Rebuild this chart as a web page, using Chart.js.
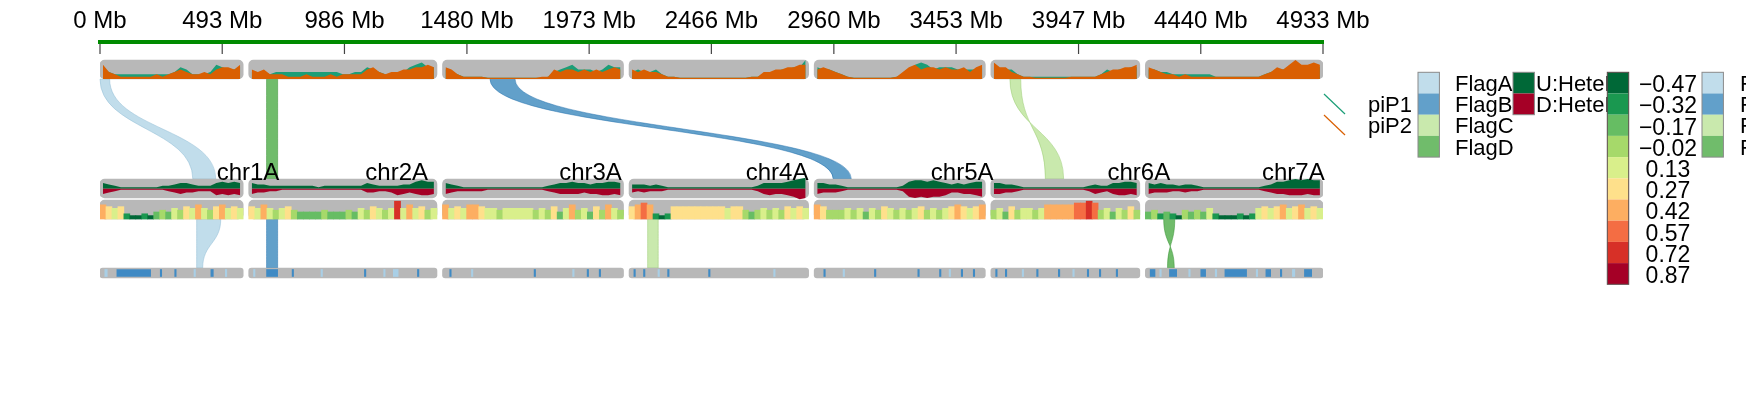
<!DOCTYPE html>
<html>
<head>
<meta charset="utf-8">
<title>Genome tracks</title>
<script src="https://cdn.jsdelivr.net/npm/chart.js@4.4.1/dist/chart.umd.min.js"></script>
<style>
  html, body { margin: 0; padding: 0; background: #fff; }
  #wrap { width: 1746px; height: 416px; }
</style>
</head>
<body>
<div id="wrap"><canvas id="genomeChart" width="1746" height="416"></canvas></div>
<script>
// Dados

const chromosomes = ['chr1A', 'chr2A', 'chr3A', 'chr4A', 'chr5A', 'chr6A', 'chr7A'];
const chromLengths = [594, 781, 751, 745, 710, 618, 737];   // Mb

const tickValues = [0, 493, 986, 1480, 1973, 2466, 2960, 3453, 3947, 4440, 4933];
const tickLabels = ['0 Mb', '493 Mb', '986 Mb', '1480 Mb', '1973 Mb', '2466 Mb',
                    '2960 Mb', '3453 Mb', '3947 Mb', '4440 Mb', '4933 Mb'];

// pi por janela (relativo, 0-10), uma lista por cromossomo
const piP1 = [
  [5,3,2,2,2,2,2,2,2,2,2,2,3,5,4,2,2,2,3,6,5,4,4,5],
  [3,3,3,2,3,3,3,3,3,3,3,3,3,3,3,2,2,3,3,5,4,3,2,2,3,3,5,6,7,5,5],
  [4,3,2,1,1,1,1,0.5,0.5,0.5,0.5,0.5,0.5,0.5,0.5,0.5,0.5,1,3,4,5,6,4,4,4,3,4,6,5,5],
  [3,4,3,3,4,2,1,1,0.5,0.5,0.5,0.5,0.5,0.5,0.5,0.5,0.5,0.5,0.5,0.5,1,1,2,3,3,4,4,5,5,8],
  [5,4,4,3,2,1,0.5,0.5,0.5,0.5,0.5,0.5,0.5,1,2,4,6,7,6,4,5,5,5,4,4,4,4,5],
  [5,4,4,4,2,1,1,1,1,1,1,1,1,1,1,1,1,1,2,4,3,4,4,5,5],
  [4,4,3,3,2,2,2,2,2,2,2,1,1,1,1,1,1,1,1,2,3,4,4,5,6,5,5,6,5]
];
const piP2 = [
  [6,3,2,1,1,1,1,1,1,2,1,2,3,4,3,2,2,3,2,4,5,5,4,6],
  [4,3,4,2,2,2,1,1,1,2,1,1,1,2,1,2,2,2,2,4,5,3,2,3,3,4,4,5,5,6,5],
  [5,4,2,1,1,1,1,0.5,0.5,0.5,0.5,0.5,0.5,0.5,0.5,0.5,1,1,4,3,4,4,3,4,3,4,3,4,5,4],
  [4,3,4,3,3,2,1,1,0.5,0.5,0.5,0.5,0.5,0.5,0.5,0.5,0.5,0.5,0.5,0.5,1,1,3,3,4,4,5,5,6,6],
  [4,5,4,3,2,1,0.5,0.5,0.5,0.5,0.5,0.5,0.5,1,3,5,6,4,5,5,4,5,4,4,5,3,5,6],
  [7,5,5,3,2,1,1,0.5,0.5,0.5,0.5,0.5,0.5,1,1,1,1,1,2,3,4,4,5,5,6],
  [5,4,3,2,2,1,2,1,1,1,1,1,1,1,1,1,1,1,1,2,3,5,4,6,8,6,6,7,6]
];

// HeteF para cima (U) e para baixo (D), relativo 0-10
const heteU = [
  [4,3,2,1,1,1,1,1,1,1,2,2,3,4,4,3,2,2,2,4,5,4,5,4],
  [4,3,3,2,2,2,2,2,2,2,2,1,2,2,2,2,2,2,2,4,3,2,2,2,2,3,3,5,6,5,5],
  [4,3,2,1,1,1,1,1,1,1,1,1,1,1,1,1,1,2,3,4,4,5,4,4,3,4,4,5,5,4],
  [3,3,3,2,3,2,1,1,1,1,1,1,1,1,1,1,1,1,1,1,1,2,4,4,4,4,5,6,7,8],
  [4,4,3,3,2,1,1,1,1,1,1,1,1,1,2,5,6,6,5,6,5,4,3,4,3,4,5,5],
  [4,4,3,3,2,1,1,1,1,1,1,1,1,1,1,1,2,3,2,2,4,4,5,5,4],
  [4,3,4,3,3,2,3,3,2,1,1,1,1,1,1,1,1,1,1,2,3,5,5,6,7,6,7,6,6]
];
const heteD = [
  [4,3,2,1,1,1,1,1,1,1,1,2,3,4,3,3,2,2,2,5,4,5,4,5],
  [4,3,3,2,2,1,1,1,1,1,1,1,1,1,1,1,1,1,1,3,3,2,2,3,5,4,3,4,5,5,4],
  [4,3,2,2,2,2,2,1,1,1,1,1,1,1,1,1,1,2,3,4,4,4,4,3,4,4,5,5,4,5],
  [3,2,3,2,2,2,1,1,1,1,1,1,1,1,1,1,1,1,1,1,1,2,4,5,4,4,5,6,8,7],
  [4,3,3,3,2,1,1,1,1,1,1,1,1,1,2,6,7,6,7,6,6,5,3,3,4,4,5,6],
  [4,4,3,3,2,1,1,1,1,1,1,1,1,1,1,1,2,4,3,2,4,5,5,4,5],
  [4,3,3,3,2,2,3,2,2,1,1,1,1,1,1,1,1,1,1,2,3,4,4,5,5,5,4,5,5]
];

// valores da faixa colorida
const heatValues = [
  [0.42,0.27,0.13,0.27,-0.32,-0.47,-0.47,-0.32,-0.47,-0.17,-0.02,-0.17,0.13,-0.02,0.27,0.13,0.42,0.13,-0.02,0.27,0.42,0.13,0.27,0.13],
  [0.27,0.13,0.42,0.13,-0.02,0.13,0.27,-0.02,-0.17,-0.17,-0.17,-0.17,-0.02,-0.17,-0.17,-0.17,-0.02,-0.17,0.13,-0.02,0.27,0.13,-0.02,0.13,0.72,0.13,0.42,0.13,0.27,-0.02,0.13],
  [0.42,0.13,0.27,0.13,0.42,0.42,0.27,0.13,0.13,-0.02,0.13,0.13,0.13,0.13,0.13,-0.02,0.13,-0.02,0.27,-0.17,0.13,0.42,-0.02,0.13,-0.17,0.27,-0.02,0.42,0.13,-0.02],
  [0.27,0.42,0.57,0.42,-0.32,-0.47,-0.32,0.27,0.27,0.27,0.27,0.27,0.27,0.27,0.27,0.27,0.13,0.27,0.27,-0.02,-0.17,-0.02,0.13,-0.02,0.13,-0.02,0.27,0.13,0.27,0.13],
  [0.42,0.27,-0.02,-0.02,-0.02,0.13,-0.02,0.13,-0.17,0.13,-0.02,0.27,0.13,-0.02,0.13,-0.02,0.13,0.27,-0.02,0.13,-0.02,0.13,0.27,0.42,0.27,0.13,0.27,0.42],
  [-0.02,0.13,-0.17,0.27,-0.02,0.13,0.13,-0.02,0.13,0.42,0.42,0.42,0.42,0.42,0.57,0.57,0.72,0.57,-0.02,0.13,-0.17,0.13,-0.02,0.27,-0.02],
  [-0.17,-0.02,-0.32,-0.17,-0.32,-0.47,-0.02,-0.17,-0.02,-0.17,0.13,-0.32,-0.47,-0.47,-0.47,-0.32,-0.47,-0.32,0.13,0.27,0.13,0.27,0.42,0.13,0.27,0.42,0.13,0.27,0.13]
];
const heatBreaks = [-0.47, -0.32, -0.17, -0.02, 0.13, 0.27, 0.42, 0.57, 0.72, 0.87];
const heatLabels = ['\u22120.47', '\u22120.32', '\u22120.17', '\u22120.02', '0.13',
                    '0.27', '0.42', '0.57', '0.72', '0.87'];

// marcas da linha de baixo (Mb dentro do cromossomo), tom 0 claro / 1 escuro
const markStarts = [
  [20,70,250,310,390,460,520],
  [20,74,180,300,480,560,600,700],
  [30,120,380,540,600,650],
  [20,60,120,160,330,600],
  [40,120,250,430,520,560,610,660],
  [20,60,130,190,280,340,400,450,520],
  [20,60,100,180,230,290,330,460,500,560,610,660]
];
const markEnds = [
  [30,210,256,316,396,470,526],
  [26,120,186,306,486,566,620,706],
  [36,126,386,546,606,656],
  [26,66,126,166,336,606],
  [46,126,256,436,526,566,616,666],
  [26,66,136,196,286,346,406,456,526],
  [40,66,130,186,250,296,420,466,520,566,620,690]
];
const markTones = [
  [0,1,1,1,0,1,0],
  [0,1,1,0,1,0,0,1],
  [1,0,1,0,1,1],
  [1,1,0,1,1,0],
  [1,0,1,1,1,0,1,1],
  [1,1,0,1,1,0,1,1,1],
  [1,0,1,0,1,0,1,0,1,1,0,1]
];

// ligações entre faixas (tier 0: pi -> HeteF, tier 1: faixa colorida -> marcas)
const flagNames = ['FlagA', 'FlagB', 'FlagC', 'FlagD'];
const linkFlag      = [0, 3, 1, 2, 0, 1, 2, 3];
const linkTier      = [0, 0, 0, 0, 1, 1, 1, 1];
const linkFromChrom = [0, 1, 2, 5, 0, 1, 3, 6];
const linkFromStart = [0, 74, 197, 79, 401, 74, 77, 76];
const linkFromEnd   = [40, 120, 301, 124, 501, 120, 121, 122];
const linkToChrom   = [0, 1, 4, 5, 0, 1, 3, 6];
const linkToStart   = [385, 74, 79, 302, 401, 74, 77, 120];
const linkToEnd     = [480, 120, 154, 226, 426, 120, 121, 92];

const piNames = ['piP1', 'piP2'];
const heteNames = ['U:HeteF', 'D:HeteF'];

// Layout e estilos

const FONT_FAMILY = "'Liberation Sans', Arial, Helvetica, sans-serif";
const FONT_SIZE = 24;
const FONT = FONT_SIZE + 'px ' + FONT_FAMILY;
const LEGEND_FONT = '22px ' + FONT_FAMILY;
const BAR_LABEL_FONT = '23px ' + FONT_FAMILY;
const GAP = 23;                  // espaço entre cromossomos (Mb)
const LABEL_OFFSET = 614;        // posição do rótulo a partir do início
const CA_TOP = 42, CA_BOTTOM = 416;
const TRACKS = {
  pi:   { top: 60,  bottom: 79 },
  hete: { top: 179, bottom: 198 },
  heat: { top: 200, bottom: 219 },
  mark: { top: 268, bottom: 278 }
};
const PI_FULL = 8;               // valor de pi que enche a faixa
const HETE_FULL = 7;             // valor de HeteF que enche meia faixa
const HEAT_BASE = -0.75;
const HEAT_FULL = 0.82;
const TRACK_GREY = '#B8B8B8';
const PI_COLORS = ['#1B9E77', '#D95F02'];
const HETE_COLORS = ['#006837', '#A50026'];
const FLAG_COLORS = ['rgba(166,206,227,0.7)', 'rgba(31,120,180,0.7)',
                     'rgba(178,223,138,0.7)', 'rgba(51,160,44,0.7)'];
const FLAG_EDGES = ['rgba(140,185,210,0.8)', 'rgba(31,110,170,0.8)',
                    'rgba(150,200,110,0.8)', 'rgba(45,140,40,0.8)'];
const HEAT_COLORS = ['#006837', '#1A9850', '#66BD63', '#A6D96A', '#D9EF8B',
                     '#FEE08B', '#FDAE61', '#F46D43', '#D73027', '#A50026'];
const MARK_COLORS = ['#A9CFE6', '#3F8AC4'];

const chromStart = chromLengths.map((l, i) =>
  chromLengths.slice(0, i).reduce((a, b) => a + b, 0) + i * GAP);
const xMax = chromStart[chromStart.length - 1] + chromLengths[chromLengths.length - 1];

function binCenter(i, j, n) {
  return chromStart[i] + (j + 0.5) * chromLengths[i] / n;
}

function heatColor(v) {
  let best = 0;
  heatBreaks.forEach((b, k) => {
    if (Math.abs(b - v) < Math.abs(heatBreaks[best] - v)) best = k;
  });
  return HEAT_COLORS[best];
}

// eixo escondido que põe uma faixa entre dois pixels
function trackScale(vLow, pLow, vHigh, pHigh) {
  const s = (pLow - pHigh) / (vHigh - vLow);
  return {
    type: 'linear', display: false, bounds: 'data', offset: false,
    min: vLow - (CA_BOTTOM - pLow) / s,
    max: vHigh + (pHigh - CA_TOP) / s
  };
}

// Datasets

const datasets = [];

[['pi', 5], ['hete', 5], ['heat', 5], ['mark', 3]].forEach(([key, r]) => {
  const t = TRACKS[key];
  datasets.push({
    type: 'bar', indexAxis: 'y', xAxisID: 'x', yAxisID: 'y', order: 20,
    data: chromosomes.map((c, i) => ({
      x: [chromStart[i], chromStart[i] + chromLengths[i]],
      y: (t.top + t.bottom) / 2
    })),
    backgroundColor: TRACK_GREY, barThickness: t.bottom - t.top, barPercentage: 1,
    borderRadius: r, borderSkipped: false, grouped: false
  });
});

chromosomes.forEach((c, i) => {
  // pi: P1 por baixo, P2 por cima
  [[piP1, PI_COLORS[0], 7], [piP2, PI_COLORS[1], 6]].forEach(([arr, col, ord]) => {
    datasets.push({
      type: 'line', xAxisID: 'x', yAxisID: 'yPi', order: ord,
      data: arr[i].map((v, j) => ({ x: binCenter(i, j, arr[i].length), y: v })),
      borderWidth: 0, borderColor: 'rgba(0,0,0,0)', backgroundColor: col,
      pointRadius: 0, tension: 0, fill: { value: 0 }
    });
  });

  // HeteF
  datasets.push({
    type: 'line', xAxisID: 'x', yAxisID: 'yHete', order: 6,
    data: heteU[i].map((v, j) => ({ x: binCenter(i, j, heteU[i].length), y: v })),
    borderWidth: 0, borderColor: 'rgba(0,0,0,0)', backgroundColor: HETE_COLORS[0],
    pointRadius: 0, tension: 0, fill: { value: 0 }
  });
  datasets.push({
    type: 'line', xAxisID: 'x', yAxisID: 'yHete', order: 6,
    data: heteD[i].map((v, j) => ({ x: binCenter(i, j, heteD[i].length), y: -v })),
    borderWidth: 0, borderColor: 'rgba(0,0,0,0)', backgroundColor: HETE_COLORS[1],
    pointRadius: 0, tension: 0, fill: { value: 0 }
  });

  // faixa colorida
  datasets.push({
    type: 'bar', xAxisID: 'x', yAxisID: 'yHeat', order: 6, stack: 'heat',
    barThickness: 'flex', barPercentage: 1, categoryPercentage: 1,
    data: heatValues[i].map((v, j) => ({ x: binCenter(i, j, heatValues[i].length), y: [HEAT_BASE, v] })),
    backgroundColor: heatValues[i].map(heatColor)
  });

  // marcas
  datasets.push({
    type: 'bar', indexAxis: 'y', xAxisID: 'x', yAxisID: 'y', order: 5, grouped: false,
    barThickness: 7, barPercentage: 1,
    data: markStarts[i].map((s, j) => ({
      x: [chromStart[i] + s, chromStart[i] + markEnds[i][j]],
      y: (TRACKS.mark.top + TRACKS.mark.bottom) / 2
    })),
    backgroundColor: markTones[i].map(t => MARK_COLORS[t])
  });
});

// Plugins

const ribbonPlugin = {
  id: 'ribbons',
  beforeDatasetsDraw(chart) {
    const { ctx } = chart;
    const xs = chart.scales.x, ys = chart.scales.y;
    const px = (c, mb) => xs.getPixelForValue(chromStart[c] + mb);
    ctx.save();
    linkFlag.forEach((f, k) => {
      const y1 = ys.getPixelForValue(linkTier[k] === 0 ? TRACKS.pi.bottom : TRACKS.heat.bottom);
      const y2 = ys.getPixelForValue(linkTier[k] === 0 ? TRACKS.hete.top : TRACKS.mark.top);
      const a1 = px(linkFromChrom[k], linkFromStart[k]);
      const b1 = px(linkFromChrom[k], linkFromEnd[k]);
      const a2 = px(linkToChrom[k], linkToStart[k]);
      const b2 = px(linkToChrom[k], linkToEnd[k]);
      const ym = (y1 + y2) / 2;
      ctx.beginPath();
      ctx.moveTo(a1, y1);
      ctx.lineTo(b1, y1);
      ctx.bezierCurveTo(b1, ym, b2, ym, b2, y2);
      ctx.lineTo(a2, y2);
      ctx.bezierCurveTo(a2, ym, a1, ym, a1, y1);
      ctx.closePath();
      ctx.fillStyle = FLAG_COLORS[f];
      ctx.fill();
      ctx.strokeStyle = FLAG_EDGES[f];
      ctx.lineWidth = 0.6;
      ctx.stroke();
    });
    ctx.restore();
  }
};

const labelPlugin = {
  id: 'chromLabels',
  afterDatasetsDraw(chart) {
    const { ctx } = chart;
    const xs = chart.scales.x, ys = chart.scales.y;
    ctx.save();
    ctx.font = FONT;
    ctx.fillStyle = '#000';
    ctx.textAlign = 'center';
    ctx.textBaseline = 'alphabetic';
    chromosomes.forEach((c, i) => {
      ctx.fillText(c, xs.getPixelForValue(chromStart[i] + LABEL_OFFSET), ys.getPixelForValue(TRACKS.hete.top + 1));
    });
    // marcas do eixo de cima, para dentro
    const top = chart.scales.xTop;
    ctx.strokeStyle = '#444';
    ctx.lineWidth = 1.2;
    top.ticks.forEach(t => {
      const x = top.getPixelForValue(t.value);
      ctx.beginPath();
      ctx.moveTo(x, chart.chartArea.top + 2);
      ctx.lineTo(x, chart.chartArea.top + 12);
      ctx.stroke();
    });
    ctx.restore();
  }
};

const legendPlugin = {
  id: 'legends',
  afterDraw(chart) {
    const { ctx } = chart;
    const BOX = 21.2, TOP = 72.3, W = 21.4;
    ctx.save();
    ctx.font = LEGEND_FONT;
    ctx.textBaseline = 'middle';
    ctx.textAlign = 'left';

    // pi
    ctx.lineWidth = 1.2;
    piNames.forEach((n, i) => {
      ctx.strokeStyle = PI_COLORS[i];
      ctx.beginPath();
      ctx.moveTo(1324, 94 + i * 21);
      ctx.lineTo(1345, 114 + i * 21);
      ctx.stroke();
      ctx.fillStyle = '#000';
      ctx.fillText(n, 1368, TOP + BOX * (i + 1.5) + 2);
    });

    // flags
    flagNames.forEach((n, i) => {
      ctx.fillStyle = FLAG_COLORS[i];
      ctx.fillRect(1418, TOP + i * BOX, W, BOX);
      ctx.fillStyle = '#000';
      ctx.fillText(n, 1455, TOP + BOX * (i + 0.5) + 2);
    });
    ctx.strokeStyle = '#8a8a8a';
    ctx.lineWidth = 1;
    ctx.strokeRect(1418, TOP, W, 4 * BOX);

    // HeteF
    heteNames.forEach((n, i) => {
      ctx.fillStyle = HETE_COLORS[i];
      ctx.fillRect(1513, TOP + i * BOX, W, BOX);
      ctx.fillStyle = '#000';
      ctx.fillText(n, 1536, TOP + BOX * (i + 0.5) + 2);
    });
    ctx.strokeStyle = '#8a8a8a';
    ctx.strokeRect(1513, TOP, W, 2 * BOX);

    // barra de cores
    ctx.font = BAR_LABEL_FONT;
    ctx.textAlign = 'center';
    heatBreaks.forEach((b, i) => {
      ctx.fillStyle = HEAT_COLORS[i];
      ctx.fillRect(1607.3, TOP + i * BOX, W, BOX);
      ctx.fillStyle = '#000';
      ctx.fillText(heatLabels[i], 1668, TOP + BOX * (i + 0.5) + 3);
    });
    ctx.strokeStyle = '#5a4a4a';
    ctx.strokeRect(1607.3, TOP, W, heatBreaks.length * BOX);

    // segunda legenda de flags (cortada na borda)
    ctx.font = LEGEND_FONT;
    ctx.textAlign = 'left';
    flagNames.forEach((n, i) => {
      ctx.fillStyle = FLAG_COLORS[i];
      ctx.fillRect(1702, TOP + i * BOX, W, BOX);
      ctx.fillStyle = '#000';
      ctx.fillText(n, 1740, TOP + BOX * (i + 0.5) + 2);
    });
    ctx.strokeStyle = '#8a8a8a';
    ctx.strokeRect(1702, TOP, W, 4 * BOX);
    ctx.restore();
  }
};

// Gráfico

Chart.defaults.font.family = FONT_FAMILY;

const genomeChart = new Chart(document.getElementById('genomeChart').getContext('2d'), {
  type: 'line',
  data: { datasets: datasets },
  options: {
    responsive: false,
    animation: false,
    events: [],
    layout: { padding: { left: 100, right: 423, top: 0, bottom: 0 } },
    scales: {
      x: { type: 'linear', display: false, bounds: 'data', offset: false, min: 0, max: xMax },
      xTop: {
        type: 'linear', position: 'top', bounds: 'data', offset: false, min: 0, max: 4933,
        afterBuildTicks: s => { s.ticks = tickValues.map(v => ({ value: v })); },
        afterFit: s => { s.height = CA_TOP; },
        ticks: {
          autoSkip: false, maxRotation: 0, padding: 6, color: '#000',
          font: { family: FONT_FAMILY, size: FONT_SIZE },
          callback: (v, i) => tickLabels[i]
        },
        grid: { display: false, drawTicks: false },
        border: { display: true, color: '#008B00', width: 4 }
      },
      y: { type: 'linear', display: false, bounds: 'data', offset: false, min: CA_TOP, max: CA_BOTTOM, reverse: true },
      yPi: trackScale(0, TRACKS.pi.bottom, PI_FULL, TRACKS.pi.top),
      yHete: trackScale(-HETE_FULL, TRACKS.hete.bottom, HETE_FULL, TRACKS.hete.top),
      yHeat: trackScale(HEAT_BASE, TRACKS.heat.bottom, HEAT_FULL, TRACKS.heat.top)
    },
    plugins: {
      legend: { display: false },
      tooltip: { enabled: false }
    }
  },
  plugins: [ribbonPlugin, labelPlugin, legendPlugin]
});
</script>
</body>
</html>
